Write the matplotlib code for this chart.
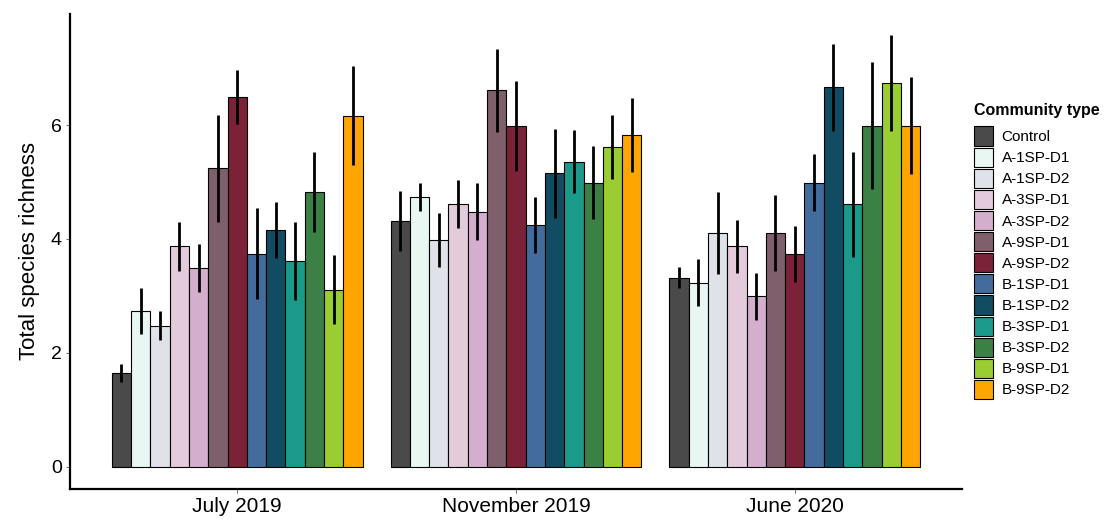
import numpy as np
import matplotlib.pyplot as plt

plt.rcParams['font.family'] = ['Liberation Sans', 'DejaVu Sans']

# Datos
periods = ['July 2019', 'November 2019', 'June 2020']
communities = ['Control', 'A-1SP-D1', 'A-1SP-D2', 'A-3SP-D1', 'A-3SP-D2',
               'A-9SP-D1', 'A-9SP-D2', 'B-1SP-D1', 'B-1SP-D2', 'B-3SP-D1',
               'B-3SP-D2', 'B-9SP-D1', 'B-9SP-D2']

july_2019 = [1.65, 2.74, 2.48, 3.87, 3.49, 5.24, 6.49, 3.74, 4.16, 3.61, 4.82, 3.11, 6.16]
july_2019_err = [0.16, 0.40, 0.26, 0.43, 0.42, 0.94, 0.47, 0.80, 0.49, 0.69, 0.70, 0.61, 0.87]

nov_2019 = [4.32, 4.74, 3.98, 4.61, 4.48, 6.61, 5.99, 4.24, 5.15, 5.36, 4.99, 5.62, 5.82]
nov_2019_err = [0.53, 0.25, 0.47, 0.42, 0.50, 0.73, 0.79, 0.49, 0.78, 0.56, 0.64, 0.56, 0.65]

june_2020 = [3.32, 3.23, 4.11, 3.87, 2.99, 4.11, 3.74, 4.99, 6.66, 4.61, 5.99, 6.74, 5.99]
june_2020_err = [0.18, 0.41, 0.72, 0.47, 0.42, 0.67, 0.49, 0.50, 0.77, 0.92, 1.12, 0.85, 0.85]

colors = ['#4a4a4a', '#e8f7f2', '#dfe2e8', '#e3cbdb', '#d3afcd', '#7e5f6b',
          '#7b2238', '#436c9c', '#124c62', '#1b9a8a', '#3b8045', '#9acd32', '#ffa500']

values = np.array([july_2019, nov_2019, june_2020])
errors = np.array([july_2019_err, nov_2019_err, june_2020_err])

fig = plt.figure(figsize=(11.07, 5.19), dpi=100)
ax = fig.add_axes([70 / 1107, 30 / 519, 892 / 1107, 475 / 519])

group_x = np.arange(1, len(periods) + 1)
n = len(communities)
width = 0.9 / n

# Barras por tipo de comunidad
for i, name in enumerate(communities):
    xs = group_x + (i - (n - 1) / 2) * width
    ax.bar(xs, values[:, i], width=width, color=colors[i], edgecolor='black',
           linewidth=0.8, label=name, zorder=2)
    ax.errorbar(xs, values[:, i], yerr=errors[:, i], fmt='none',
                ecolor='black', elinewidth=2.0, capsize=0, zorder=3)

ax.set_xlim(0.4, 3.6)
ax.set_ylim(-0.39, 7.95)
ax.set_xticks(group_x)
ax.set_xticklabels(periods, fontsize=15)
ax.set_yticks([0, 2, 4, 6])
ax.tick_params(axis='y', labelsize=14, length=3, width=0.6, color='#555555', pad=3)
ax.tick_params(axis='x', length=3, width=0.6, color='#555555', pad=3)
ax.set_ylabel('Total species richness', fontsize=16, labelpad=8)

for side in ['top', 'right']:
    ax.spines[side].set_visible(False)
for side in ['left', 'bottom']:
    ax.spines[side].set_linewidth(1.6)

# Leyenda a la derecha
leg = ax.legend(loc='upper left', bbox_to_anchor=(968 / 1107, 1 - 97 / 519),
                bbox_transform=fig.transFigure, frameon=False, fontsize=11,
                title='Community type', title_fontproperties={'weight': 'bold', 'size': 11.5},
                handlelength=1.25, handleheight=1.55, labelspacing=0.13,
                handletextpad=0.55, borderaxespad=0)
leg._legend_box.align = 'left'
leg._legend_box.sep = 6

fig.savefig('out.png', dpi=100)
